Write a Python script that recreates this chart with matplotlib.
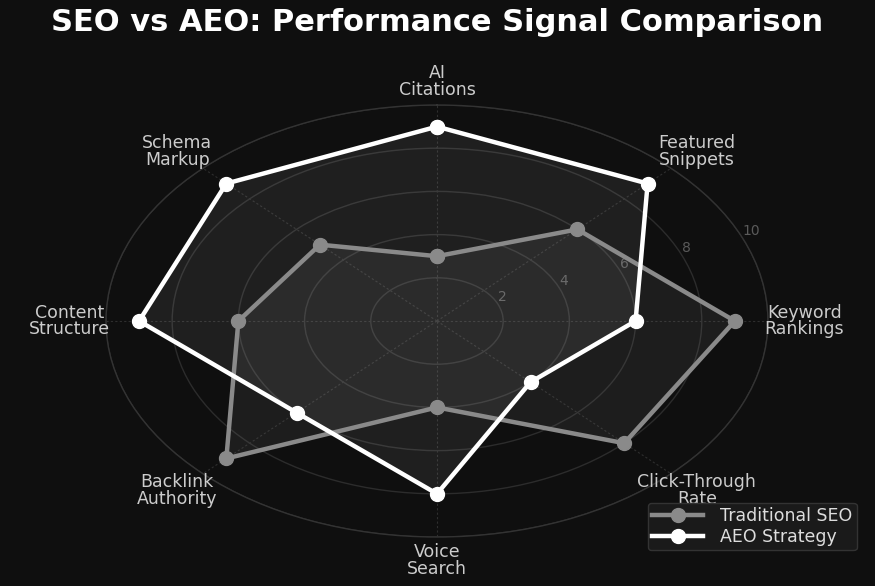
import numpy as np
import matplotlib
matplotlib.use("Agg")
import matplotlib.pyplot as plt

categories = ["AI\nCitations", "Featured\nSnippets", "Keyword\nRankings", "Click-Through\nRate",
              "Voice\nSearch", "Backlink\nAuthority", "Content\nStructure", "Schema\nMarkup"]
seo_values = [3, 6, 9, 8, 4, 9, 6, 5]
aeo_values = [9, 9, 6, 4, 8, 6, 9, 9]
r_ticks = [2, 4, 6, 8, 10]
r_tick_labels = ["2", "4", "6", "8", "10"]
series_names = ["Traditional SEO", "AEO Strategy"]

BG = "#0f0f0f"
fig = plt.figure(figsize=(8.75, 5.86), dpi=100, facecolor=BG)
ax = fig.add_axes([0.1211, 0.0836, 0.7566, 0.7372], projection="polar", facecolor=BG)
ax.set_aspect("auto")

n = len(categories)
angles = np.linspace(0, 2 * np.pi, n, endpoint=False)
ang_c = np.concatenate([angles, angles[:1]])

ax.set_theta_offset(np.pi / 2)
ax.set_theta_direction(-1)
ax.set_ylim(0, 10)

seo_c = seo_values + seo_values[:1]
aeo_c = aeo_values + aeo_values[:1]

ax.fill(ang_c, aeo_c, color="#ffffff", alpha=0.07, zorder=2)
ax.fill(ang_c, seo_c, color="#9a9a9a", alpha=0.10, zorder=2)
ax.plot(ang_c, seo_c, color="#8a8a8a", lw=3.2, marker="o", ms=10, label=series_names[0], zorder=3)
ax.plot(ang_c, aeo_c, color="#ffffff", lw=3.2, marker="o", ms=10, label=series_names[1], zorder=4)

ax.set_xticks(angles)
ax.set_xticklabels([])
for a, lab in zip(angles, categories):
    ax.text(a, 11.1, lab, ha="center", va="center", color="#cccccc", fontsize=12.5,
            linespacing=0.9)

ax.set_yticks(r_ticks)
ax.set_yticklabels(r_tick_labels, color="#5a5a5a", fontsize=10)
ax.set_rlabel_position(67.5)
ax.yaxis.grid(True, color="#2c2c2c", lw=1.0)
ax.xaxis.grid(True, color="#2e2e2e", lw=0.8, ls=(0, (2, 2)))
ax.spines["polar"].set_color("#333333")
ax.spines["polar"].set_linewidth(1.0)
ax.tick_params(axis="y", pad=0)

fig.text(0.5, 0.962, "SEO vs AEO: Performance Signal Comparison", ha="center", va="center",
         color="white", fontsize=22, fontweight="bold")

leg = fig.legend(loc="lower right", bbox_to_anchor=(0.979, 0.0614), fontsize=12.5,
                 facecolor="#1a1a1a", edgecolor="#333333", labelcolor="#dddddd",
                 handlelength=2.9, handletextpad=1.0, borderpad=0.25, labelspacing=0.15,
                 framealpha=1.0, borderaxespad=0.0)

fig.savefig("out.png", dpi=100, facecolor=BG)
